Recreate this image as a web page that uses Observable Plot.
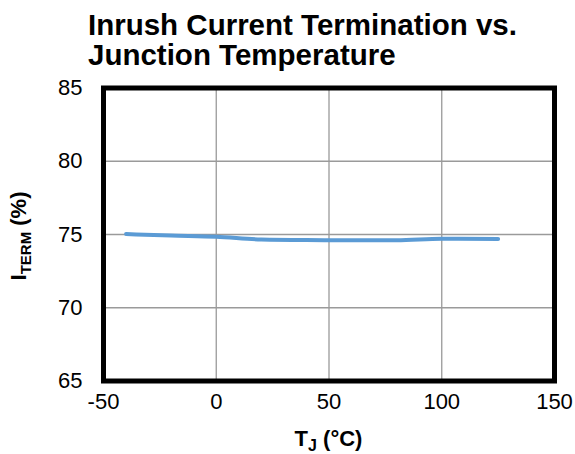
<!DOCTYPE html>
<html>
<head>
<meta charset="utf-8">
<script src="https://cdn.jsdelivr.net/npm/d3@7"></script>
<script src="https://cdn.jsdelivr.net/npm/@observablehq/plot@0.6"></script>
<style>
  html, body { margin: 0; padding: 0; background: #fff; }
  #wrap { position: relative; width: 575px; height: 454px; font-family: "Liberation Sans", Arial, sans-serif; overflow: hidden; }
  #title { position: absolute; top: 9.8px; left: 88px; font-size: 29.5px; font-weight: bold; line-height: 30px; color: #000; white-space: nowrap; }
  #chart { position: absolute; top: 80px; left: 0; }
</style>
</head>
<body>
<div id="wrap">
  <div id="chart"></div>
  <div id="title">Inrush Current Termination vs.<br>Junction Temperature</div>
</div>
<script>
const titleText = "Inrush Current Termination vs. Junction Temperature";
const tempC = [-40, -20, 0, 20, 40, 60, 80, 100, 125];
const itermPct = [75.03, 74.93, 74.85, 74.66, 74.62, 74.61, 74.61, 74.71, 74.69];
const xTicks = [-50, 0, 50, 100, 150];
const yTicks = [65, 70, 75, 80, 85];
const xGrid = [0, 50, 100];
const yGrid = [70, 75, 80];

const data = tempC.map((t, i) => ({t, v: itermPct[i]}));

const chart = Plot.plot({
  width: 575,
  height: 374,
  marginLeft: 103,
  marginRight: 21,
  marginTop: 7.5,
  marginBottom: 73.5,
  style: {fontFamily: "'Liberation Sans', Arial, sans-serif", background: "transparent", color: "#000", overflow: "visible"},
  x: {domain: [-50, 150]},
  y: {domain: [65, 85]},
  marks: [
    Plot.gridX(xGrid, {stroke: "#9a9a9a", strokeOpacity: 1, strokeWidth: 1.3}),
    Plot.gridY(yGrid, {stroke: "#9a9a9a", strokeOpacity: 1, strokeWidth: 1.3}),
    Plot.axisX({ticks: xTicks, tickSize: 0, tickPadding: 12, fontSize: 22, label: null, tickFormat: d => String(d)}),
    Plot.axisY({ticks: yTicks, tickSize: 0, tickPadding: 21, fontSize: 22, label: null, tickFormat: d => String(d)}),
    Plot.line(data, {x: "t", y: "v", stroke: "#5B9BD5", strokeWidth: 4, curve: "monotone-x"}),
    Plot.frame({stroke: "#000", strokeWidth: 5})
  ]
});
document.getElementById("chart").appendChild(chart);

const svg = d3.select(chart);
// x-axis label
const xl = svg.append("text")
  .attr("x", 328.5).attr("y", 366)
  .attr("text-anchor", "middle")
  .attr("font-size", 22).attr("font-weight", "bold").attr("fill", "#000");
xl.append("tspan").text("T");
xl.append("tspan").attr("font-size", 16).attr("dy", 5).text("J");
xl.append("tspan").attr("dy", -5).text(" (°C)");

// y-axis label
const yl = svg.append("text")
  .attr("transform", "translate(26,156) rotate(-90)")
  .attr("text-anchor", "middle")
  .attr("font-size", 22).attr("font-weight", "bold").attr("fill", "#000");
yl.append("tspan").text("I");
yl.append("tspan").attr("font-size", 15).attr("dy", 5).text("TERM");
yl.append("tspan").attr("dy", -5).text(" (%)");
</script>
</body>
</html>
